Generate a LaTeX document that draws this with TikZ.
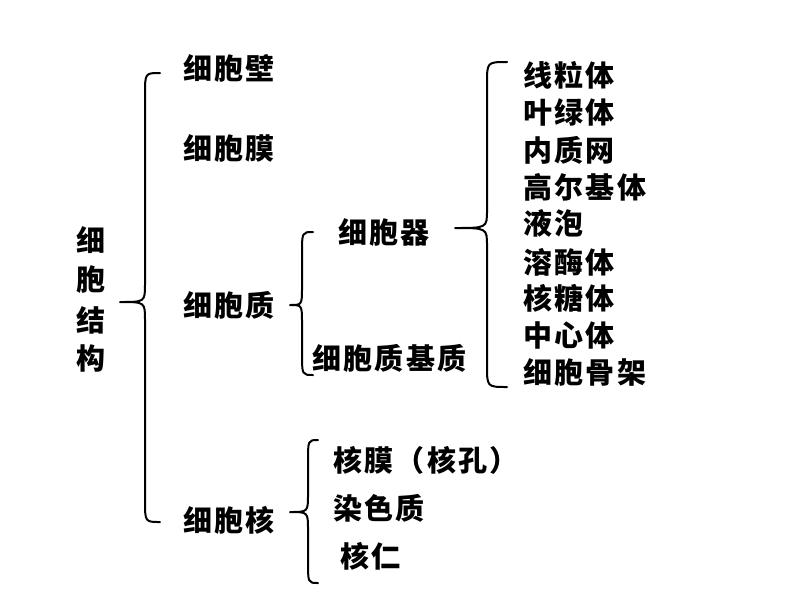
\documentclass[tikz,border=0pt]{standalone}
\usepackage{fontspec}
\newfontfamily\cjk{Noto Sans CJK SC}[LetterSpace=8]
\tikzset{
  lbl/.style={anchor=west,inner sep=0pt,font=\cjk\bfseries\fontsize{29}{31}\selectfont},
  vch/.style={anchor=center,inner sep=0pt,font=\cjk\bfseries\fontsize{29}{31}\selectfont},
  bracestyle/.style={line width=2pt,line cap=round,line join=round}
}
% #1 xt, #2 xv, #3 xp, #4 yt, #5 yp, #6 yb
\newcommand\cbrace[6]{%
  \draw[bracestyle] (#1,#4) .. controls (#2,#4) .. (#2,#4+22) -- (#2,#5-18)
    .. controls (#2,#5) .. (#3,#5) .. controls (#2,#5) .. (#2,#5+18)
    -- (#2,#6-22) .. controls (#2,#6) .. (#1,#6);}
\begin{document}
\begin{tikzpicture}[x=1pt,y=-1pt]
\useasboundingbox (0,0) rectangle (800,600);
% vertical title
\node[vch] (t1) at (91,240) {细};
\node[vch] (t2) at (91,280) {胞};
\node[vch] (t3) at (91,320) {结};
\node[vch] (t4) at (91,358) {构};
% braces
\cbrace{160}{145}{120}{73}{302}{522}
\cbrace{313}{302}{290}{232}{305}{375}
\cbrace{507}{487}{455}{62}{228}{387}
\cbrace{318}{308}{290}{440}{512}{583}
% level 1
\node[lbl] (bi) at (183,68) {细胞壁};
\node[lbl] (mo) at (183,148) {细胞膜};
\node[lbl] (zh) at (183,305) {细胞质};
\node[lbl] (he) at (183,520) {细胞核};
% cytoplasm
\node[lbl] (qi) at (338,232) {细胞器};
\node[lbl] (jz) at (312,358) {细胞质基质};
% organelles
\node[lbl] (o1) at (523,75) {线粒体};
\node[lbl] (o2) at (523,112) {叶绿体};
\node[lbl] (o3) at (523,150) {内质网};
\node[lbl] (o4) at (523,187) {高尔基体};
\node[lbl] (o5) at (523,223) {液泡};
\node[lbl] (o6) at (523,262) {溶酶体};
\node[lbl] (o7) at (523,298) {核糖体};
\node[lbl] (o8) at (523,335) {中心体};
\node[lbl] (o9) at (523,372) {细胞骨架};
% nucleus
\node[lbl] (n1) at (333,460) {核膜（核孔）};
\node[lbl] (n2) at (333,508) {染色质};
\node[lbl] (n3) at (340,556) {核仁};
\end{tikzpicture}
\end{document}
